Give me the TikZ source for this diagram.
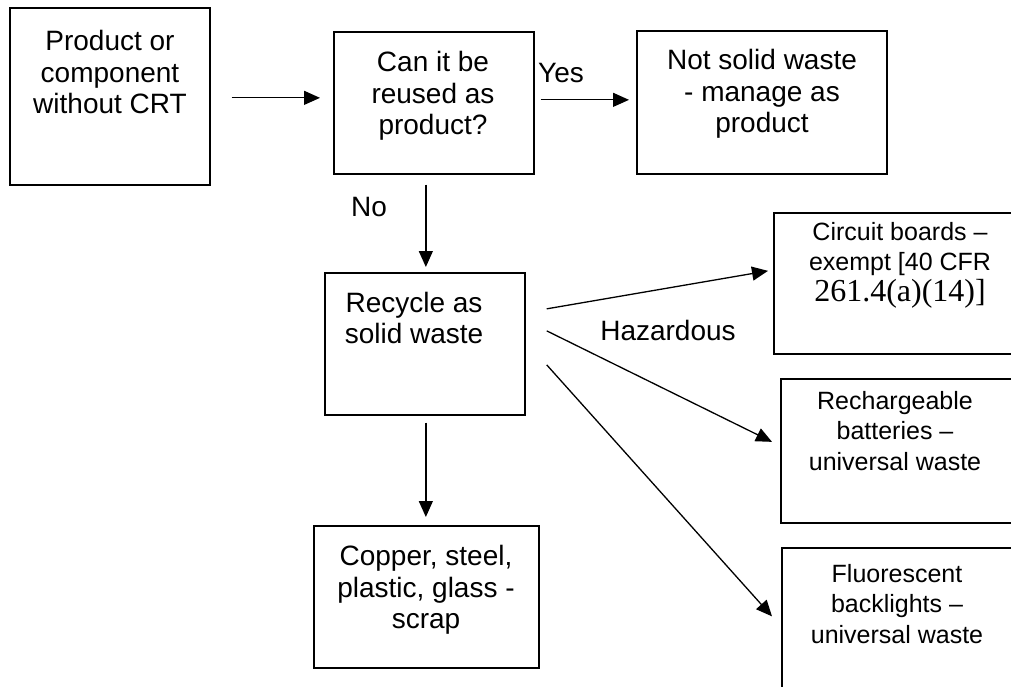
\documentclass[tikz,border=0pt]{standalone}
\usepackage{fontspec}
\setmainfont{Liberation Sans}
\newfontfamily\tnr{Liberation Serif}
\usetikzlibrary{arrows.meta,calc}
\begin{document}
\begin{tikzpicture}[x=1pt,y=-1pt,
  box/.style={draw,line width=1.7pt,inner sep=0pt,anchor=north west},
  lbl/.style={align=center,inner sep=0pt,font=\fontsize{28}{31.5}\selectfont},
  lbls/.style={align=center,inner sep=0pt,font=\fontsize{25}{30.5}\selectfont},
  arr/.style={line width=1.3pt,-{Triangle[length=16pt,width=14pt]}}]
\useasboundingbox (0,0) rectangle (1011,687);
\clip (0,0) rectangle (1011,687);
% boxes
\node[box,minimum width=200pt,minimum height=177pt] (b1) at (9,7) {};
\node[box,minimum width=200pt,minimum height=142pt] (b2) at (333,31) {};
\node[box,minimum width=250pt,minimum height=143pt] (b3) at (636,30) {};
\node[box,minimum width=200pt,minimum height=142pt] (b4) at (324,272) {};
\node[box,minimum width=225pt,minimum height=142pt] (b5) at (313,525) {};
\node[box,minimum width=250pt,minimum height=141pt] (b6) at (773,212) {};
\node[box,minimum width=250pt,minimum height=144pt] (b7) at (780,378) {};
\node[box,minimum width=250pt,minimum height=160pt] (b8) at (781,547) {};
% texts
\node[lbl] (t1) at (110,72) {Product or\\component\\without CRT};
\node[lbl] (t2) at (433,96) {Can it be\\reused as\\product?};
\node[lbl] (t3) at (762,94) {Not solid waste\\- manage as\\product};
\node[lbl] (t4) at (414,318) {Recycle as\\solid waste};
\node[lbl] (t5) at (426,590) {Copper, steel,\\plastic, glass -\\scrap};
\node[lbls] (t6) at (900,265) {Circuit boards --\\exempt [40 CFR\\{\tnr\fontsize{32}{33}\selectfont 261.4(a)(14)]}};
\node[lbls] (t7) at (895,431) {Rechargeable\\batteries --\\universal waste};
\node[lbls] (t8) at (897,604) {Fluorescent\\backlights --\\universal waste};
% labels
\node[lbl] (yes) at (561,73) {Yes};
\node[lbl] (no) at (369,207) {No};
\node[lbl] (haz) at (668,330) {Hazardous};
% connectors
\draw[arr] ($(b1.east)+(21,1.5)$) -- ($(b2.west)+(-13,-5)$);
\draw[arr] ($(b2.east)+(6,-3)$) -- ($(b3.west)+(-7,-2.5)$);
\draw[arr] ($(b2.south)+(-8,10)$) -- ($(b4.north)+(1,-5)$);
\draw[arr] ($(b4.south)+(1,7)$) -- ($(b5.north)+(-0.5,-8)$);
\draw[arr] ($(b4.east)+(21,-35)$) -- ($(b6.west)+(-5,-12.5)$);
\draw[arr] ($(b4.east)+(21,-13)$) -- ($(b7.west)+(-8,-9)$);
\draw[arr] ($(b4.east)+(21,21)$) -- ($(b8.west)+(-9,-11.5)$);
\end{tikzpicture}
\end{document}
